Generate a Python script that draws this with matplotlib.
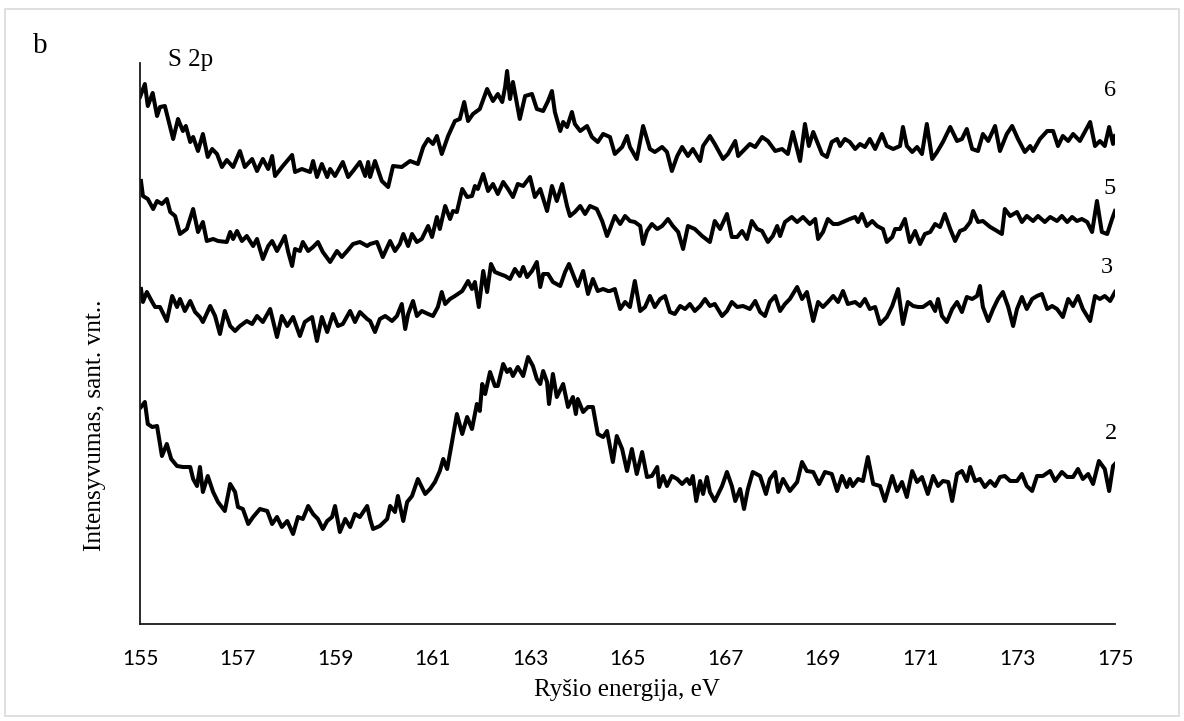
import matplotlib
matplotlib.use("Agg")
import matplotlib.pyplot as plt
from matplotlib.patches import Rectangle

# S 2p XPS spectra (binding energy, eV / intensity, arb. units) for samples 2, 3, 5, 6
e6 = [155.00, 155.10, 155.16, 155.26, 155.35, 155.41, 155.51, 155.68, 155.78, 155.88, 155.94, 156.03, 156.09,
      156.19, 156.29, 156.39, 156.48, 156.58, 156.68, 156.78, 156.91, 157.05, 157.15, 157.30, 157.40, 157.52,
      157.63, 157.71, 157.77, 157.93, 158.12, 158.18, 158.32, 158.49, 158.55, 158.63, 158.73, 158.84, 158.90,
      159.00, 159.16, 159.27, 159.37, 159.51, 159.62, 159.68, 159.72, 159.82, 159.96, 160.09, 160.19, 160.37,
      160.54, 160.70, 160.81, 160.91, 161.01, 161.09, 161.19, 161.32, 161.46, 161.56, 161.65, 161.73, 161.83,
      161.97, 162.12, 162.24, 162.34, 162.43, 162.49, 162.53, 162.59, 162.65, 162.79, 162.90, 163.04, 163.14,
      163.27, 163.37, 163.45, 163.51, 163.62, 163.68, 163.76, 163.86, 163.92, 164.03, 164.17, 164.27, 164.39,
      164.50, 164.64, 164.74, 164.89, 164.99, 165.05, 165.19, 165.32, 165.46, 165.56, 165.71, 165.81, 165.91,
      166.02, 166.12, 166.24, 166.34, 166.49, 166.55, 166.69, 166.79, 166.96, 167.06, 167.21, 167.27, 167.37,
      167.51, 167.62, 167.76, 167.88, 168.03, 168.17, 168.29, 168.39, 168.54, 168.64, 168.72, 168.81, 168.99,
      169.09, 169.19, 169.30, 169.36, 169.46, 169.56, 169.67, 169.77, 169.87, 169.97, 170.08, 170.22, 170.32,
      170.45, 170.59, 170.65, 170.73, 170.84, 170.94, 171.04, 171.14, 171.25, 171.35, 171.47, 171.62, 171.76,
      171.86, 171.96, 172.07, 172.19, 172.29, 172.40, 172.54, 172.64, 172.78, 172.89, 173.01, 173.15, 173.26,
      173.32, 173.46, 173.61, 173.73, 173.83, 173.93, 174.04, 174.14, 174.28, 174.38, 174.49, 174.59, 174.69,
      174.79, 174.88, 174.96, 175.00]
i6 = [527, 540, 518, 531, 508, 517, 518, 485, 505, 493, 498, 482, 487,
      473, 490, 467, 475, 470, 457, 464, 457, 473, 457, 465, 453, 465,
      455, 468, 448, 458, 469, 452, 455, 452, 463, 447, 460, 447, 455,
      448, 462, 447, 453, 462, 448, 462, 447, 463, 443, 437, 458, 457,
      463, 460, 477, 485, 480, 488, 470, 488, 503, 505, 522, 503, 510,
      515, 535, 523, 530, 522, 537, 553, 525, 542, 505, 528, 530, 515,
      513, 523, 533, 512, 493, 502, 497, 512, 500, 493, 498, 487, 482,
      490, 487, 470, 477, 488, 477, 465, 498, 475, 472, 477, 472, 453,
      468, 477, 468, 475, 463, 478, 488, 480, 465, 470, 483, 468, 473,
      480, 477, 487, 483, 473, 475, 470, 492, 463, 500, 478, 492, 470,
      467, 482, 485, 478, 485, 482, 475, 480, 477, 485, 475, 490, 478,
      475, 478, 497, 478, 472, 477, 470, 500, 465, 472, 482, 497, 483,
      485, 495, 475, 473, 490, 483, 498, 473, 490, 498, 485, 472, 478,
      473, 485, 493, 493, 478, 488, 483, 490, 483, 492, 502, 478, 483,
      478, 497, 480, 488]

e5 = [155.02, 155.06, 155.16, 155.27, 155.35, 155.45, 155.55, 155.62, 155.72, 155.82, 155.96, 156.09, 156.19,
      156.29, 156.37, 156.50, 156.60, 156.78, 156.85, 156.91, 156.99, 157.09, 157.19, 157.32, 157.40, 157.52,
      157.63, 157.71, 157.81, 157.91, 157.97, 158.04, 158.12, 158.18, 158.28, 158.34, 158.45, 158.55, 158.65,
      158.75, 158.90, 159.04, 159.14, 159.25, 159.37, 159.51, 159.66, 159.72, 159.86, 159.98, 160.13, 160.23,
      160.33, 160.40, 160.50, 160.58, 160.68, 160.78, 160.91, 160.99, 161.09, 161.15, 161.26, 161.36, 161.42,
      161.50, 161.61, 161.71, 161.81, 161.87, 161.93, 162.04, 162.14, 162.24, 162.34, 162.45, 162.55, 162.65,
      162.75, 162.86, 163.00, 163.10, 163.21, 163.35, 163.45, 163.55, 163.66, 163.76, 163.82, 163.92, 164.03,
      164.13, 164.23, 164.37, 164.48, 164.58, 164.64, 164.74, 164.85, 164.95, 165.05, 165.15, 165.26, 165.32,
      165.40, 165.50, 165.61, 165.71, 165.83, 165.93, 166.04, 166.14, 166.24, 166.38, 166.53, 166.69, 166.79,
      166.90, 167.04, 167.14, 167.25, 167.35, 167.45, 167.55, 167.66, 167.76, 167.88, 167.98, 168.07, 168.13,
      168.23, 168.37, 168.48, 168.60, 168.74, 168.85, 168.91, 169.01, 169.11, 169.22, 169.32, 169.42, 169.56,
      169.67, 169.73, 169.81, 169.91, 170.02, 170.12, 170.24, 170.32, 170.43, 170.49, 170.59, 170.69, 170.79,
      170.90, 171.00, 171.10, 171.21, 171.31, 171.41, 171.51, 171.62, 171.72, 171.82, 171.92, 172.03, 172.09,
      172.19, 172.29, 172.44, 172.58, 172.68, 172.74, 172.85, 172.99, 173.09, 173.19, 173.32, 173.42, 173.56,
      173.67, 173.81, 173.91, 174.02, 174.12, 174.22, 174.32, 174.43, 174.53, 174.63, 174.73, 174.84, 174.94,
      175.00]
i5 = [443, 428, 425, 415, 423, 420, 425, 412, 408, 390, 395, 415, 392,
      402, 383, 385, 383, 382, 392, 385, 393, 383, 388, 378, 385, 365,
      378, 383, 373, 382, 388, 372, 358, 375, 373, 382, 373, 377, 382,
      372, 362, 373, 367, 373, 380, 382, 378, 380, 382, 367, 383, 373,
      380, 390, 378, 390, 382, 385, 398, 387, 407, 395, 418, 405, 413,
      412, 435, 427, 428, 438, 435, 450, 433, 440, 430, 442, 435, 427,
      440, 438, 447, 427, 435, 413, 438, 423, 440, 418, 408, 412, 418,
      410, 418, 415, 403, 388, 395, 408, 400, 408, 403, 402, 398, 380,
      393, 400, 395, 398, 405, 398, 392, 375, 398, 395, 388, 382, 403,
      395, 410, 387, 387, 393, 385, 403, 395, 393, 382, 388, 398, 388,
      402, 407, 402, 407, 400, 405, 385, 392, 405, 400, 400, 402, 405,
      407, 402, 410, 398, 403, 398, 395, 382, 387, 395, 395, 405, 382,
      393, 380, 390, 392, 400, 397, 410, 395, 383, 393, 395, 402, 413,
      402, 403, 397, 393, 390, 415, 408, 412, 402, 408, 403, 408, 402,
      407, 403, 408, 402, 407, 403, 405, 402, 392, 423, 392, 390, 405,
      413]

e3 = [155.02, 155.06, 155.14, 155.25, 155.31, 155.41, 155.55, 155.66, 155.76, 155.82, 155.92, 156.03, 156.13,
      156.23, 156.29, 156.44, 156.54, 156.64, 156.74, 156.85, 156.95, 157.05, 157.19, 157.30, 157.40, 157.52,
      157.67, 157.81, 157.91, 158.02, 158.14, 158.28, 158.38, 158.53, 158.63, 158.73, 158.84, 158.96, 159.06,
      159.16, 159.31, 159.41, 159.51, 159.66, 159.72, 159.82, 159.92, 160.03, 160.17, 160.27, 160.37, 160.44,
      160.50, 160.60, 160.68, 160.78, 160.91, 161.01, 161.11, 161.19, 161.26, 161.36, 161.46, 161.61, 161.73,
      161.81, 161.87, 161.95, 162.04, 162.12, 162.20, 162.28, 162.38, 162.49, 162.59, 162.69, 162.79, 162.86,
      162.94, 163.04, 163.14, 163.21, 163.27, 163.37, 163.47, 163.62, 163.72, 163.80, 163.92, 163.98, 164.09,
      164.19, 164.29, 164.39, 164.50, 164.60, 164.64, 164.74, 164.85, 164.95, 165.05, 165.15, 165.26, 165.36,
      165.46, 165.56, 165.67, 165.77, 165.87, 165.97, 166.08, 166.18, 166.28, 166.38, 166.49, 166.59, 166.69,
      166.79, 166.94, 167.04, 167.14, 167.25, 167.37, 167.51, 167.62, 167.72, 167.82, 167.92, 168.03, 168.13,
      168.23, 168.33, 168.48, 168.58, 168.68, 168.81, 168.91, 169.01, 169.11, 169.22, 169.32, 169.42, 169.52,
      169.67, 169.77, 169.87, 169.97, 170.08, 170.18, 170.32, 170.43, 170.55, 170.65, 170.75, 170.86, 170.96,
      171.06, 171.21, 171.31, 171.37, 171.45, 171.55, 171.66, 171.76, 171.86, 171.96, 172.07, 172.17, 172.23,
      172.29, 172.40, 172.50, 172.60, 172.70, 172.81, 172.91, 172.99, 173.09, 173.19, 173.30, 173.40, 173.50,
      173.61, 173.71, 173.81, 173.93, 174.04, 174.14, 174.24, 174.34, 174.49, 174.59, 174.69, 174.79, 174.90,
      175.00]
i3 = [335, 322, 332, 322, 317, 317, 303, 328, 317, 325, 313, 323, 312,
      307, 302, 318, 308, 290, 313, 298, 293, 298, 303, 300, 308, 302,
      315, 287, 308, 298, 307, 288, 302, 307, 283, 307, 292, 310, 298,
      300, 313, 302, 312, 305, 303, 292, 305, 308, 303, 308, 320, 295,
      310, 323, 308, 313, 310, 308, 317, 332, 320, 325, 328, 333, 343,
      335, 342, 317, 353, 332, 360, 352, 350, 348, 345, 355, 348, 357,
      347, 353, 362, 337, 350, 350, 342, 338, 352, 360, 345, 338, 353,
      330, 345, 333, 335, 333, 333, 335, 315, 322, 317, 343, 313, 317,
      328, 317, 325, 328, 312, 310, 318, 315, 320, 313, 318, 325, 318,
      320, 308, 313, 322, 317, 318, 315, 323, 312, 308, 322, 328, 313,
      320, 325, 337, 325, 332, 303, 322, 317, 322, 328, 322, 333, 320,
      322, 318, 325, 315, 317, 300, 307, 318, 335, 300, 322, 318, 317,
      317, 322, 313, 325, 308, 302, 315, 322, 312, 327, 325, 328, 338,
      317, 303, 315, 325, 332, 317, 298, 315, 327, 315, 325, 328, 330,
      315, 318, 315, 307, 325, 318, 328, 315, 303, 328, 325, 328, 323,
      332]

e2 = [155.02, 155.10, 155.16, 155.25, 155.35, 155.45, 155.55, 155.64, 155.76, 155.88, 156.03, 156.09, 156.17,
      156.23, 156.29, 156.39, 156.50, 156.60, 156.74, 156.85, 156.95, 157.01, 157.11, 157.22, 157.32, 157.46,
      157.61, 157.71, 157.81, 157.91, 158.02, 158.14, 158.24, 158.34, 158.45, 158.55, 158.65, 158.75, 158.84,
      158.94, 159.00, 159.10, 159.21, 159.31, 159.41, 159.51, 159.66, 159.72, 159.78, 159.92, 160.07, 160.13,
      160.23, 160.29, 160.40, 160.48, 160.58, 160.70, 160.85, 160.95, 161.05, 161.15, 161.22, 161.30, 161.40,
      161.50, 161.61, 161.71, 161.81, 161.91, 161.97, 162.02, 162.08, 162.18, 162.28, 162.34, 162.45, 162.53,
      162.59, 162.65, 162.75, 162.86, 162.96, 163.06, 163.14, 163.21, 163.27, 163.35, 163.39, 163.47, 163.55,
      163.68, 163.78, 163.88, 163.94, 163.98, 164.09, 164.19, 164.29, 164.39, 164.50, 164.58, 164.70, 164.78,
      164.89, 164.99, 165.09, 165.19, 165.30, 165.40, 165.50, 165.61, 165.65, 165.73, 165.81, 165.91, 166.02,
      166.12, 166.22, 166.28, 166.34, 166.41, 166.49, 166.55, 166.63, 166.69, 166.79, 166.94, 167.04, 167.14,
      167.21, 167.31, 167.39, 167.47, 167.57, 167.72, 167.84, 167.92, 168.03, 168.09, 168.19, 168.33, 168.48,
      168.58, 168.68, 168.81, 168.93, 169.05, 169.19, 169.30, 169.40, 169.50, 169.56, 169.62, 169.73, 169.83,
      169.93, 170.04, 170.18, 170.28, 170.43, 170.53, 170.63, 170.73, 170.84, 170.94, 171.04, 171.16, 171.27,
      171.37, 171.47, 171.58, 171.66, 171.76, 171.86, 171.96, 172.03, 172.13, 172.23, 172.33, 172.44, 172.54,
      172.64, 172.74, 172.85, 172.99, 173.09, 173.19, 173.30, 173.40, 173.52, 173.67, 173.77, 173.91, 174.02,
      174.14, 174.24, 174.34, 174.45, 174.55, 174.67, 174.79, 174.88, 174.96, 175.00]
i2 = [217, 222, 200, 197, 198, 168, 180, 165, 158, 157, 157, 145, 138,
      157, 132, 148, 132, 122, 113, 140, 132, 117, 115, 100, 107, 115,
      113, 100, 107, 97, 103, 90, 107, 105, 118, 110, 105, 95, 103,
      107, 118, 92, 105, 97, 110, 107, 118, 105, 95, 98, 105, 118,
      112, 128, 103, 122, 128, 145, 130, 135, 142, 153, 165, 155, 182,
      210, 190, 207, 195, 220, 213, 240, 230, 252, 238, 238, 260, 252,
      255, 248, 257, 248, 267, 258, 245, 240, 253, 242, 220, 250, 227,
      240, 217, 227, 210, 225, 212, 217, 217, 190, 187, 193, 162, 188,
      175, 153, 175, 150, 172, 147, 148, 157, 137, 148, 138, 148, 145,
      140, 145, 140, 148, 123, 143, 130, 147, 132, 123, 138, 152, 138,
      123, 135, 115, 135, 152, 148, 130, 145, 152, 132, 145, 133, 142,
      162, 153, 152, 140, 152, 150, 133, 148, 137, 145, 138, 145, 143,
      167, 140, 138, 123, 148, 133, 142, 127, 153, 142, 147, 130, 148,
      138, 143, 142, 123, 150, 153, 143, 157, 143, 145, 137, 143, 138,
      147, 148, 143, 143, 150, 138, 133, 148, 148, 153, 143, 152, 147,
      147, 155, 145, 150, 140, 163, 155, 133, 158, 160]

series = [(e6, i6), (e5, i5), (e3, i3), (e2, i2)]
curve_labels = ["6", "5", "3", "2"]
xticks = [155, 157, 159, 161, 163, 165, 167, 169, 171, 173, 175]

W, H = 1184, 721
fig = plt.figure(figsize=(W / 100, H / 100), dpi=100)
fig.patch.set_facecolor("white")

# thin light frame around the whole panel
fig.patches.append(Rectangle((5 / W, 5 / H), 1174 / W, 707 / H, transform=fig.transFigure,
                             fill=False, edgecolor="#d9d9d9", linewidth=1.2))

ax = fig.add_axes([140 / W, 97 / H, 975 / W, 561 / H])
for e, i in series:
    ax.plot(e, i, color="black", linewidth=2.9, solid_joinstyle="round")

ax.set_xlim(155, 175)
ax.set_ylim(0, 561)
ax.set_xticks(xticks)
ax.set_xticklabels([str(t) for t in xticks], fontfamily="Lato", fontsize=15)
ax.tick_params(axis="x", length=0, pad=18)
ax.set_yticks([])
for s in ("top", "right"):
    ax.spines[s].set_visible(False)
for s in ("left", "bottom"):
    ax.spines[s].set_linewidth(1.3)
    ax.spines[s].set_color("#1a1a1a")

serif = "Liberation Serif"
# curve numbers at the right end of each spectrum
label_x = [1110, 1110, 1107, 1111]
label_y = [91, 188, 267, 434]
for lab, xp, yp in zip(curve_labels, label_x, label_y):
    fig.text(xp / W, 1 - yp / H, lab, fontfamily=serif, fontsize=17.5, ha="center", va="center")

fig.text(33 / W, 1 - 53 / H, "b", fontfamily=serif, fontsize=21, ha="left", va="baseline")
fig.text(168 / W, 1 - 66 / H, "S 2p", fontfamily=serif, fontsize=18, ha="left", va="baseline")
fig.text(627 / W, 1 - 690 / H, "Ryšio energija, eV", fontfamily=serif, fontsize=18, ha="center", va="center")
fig.text(95 / W, 1 - 425 / H, "Intensyvumas, sant. vnt..", fontfamily=serif, fontsize=18.3,
         ha="center", va="center", rotation=90)

fig.savefig("out.png", dpi=100)
